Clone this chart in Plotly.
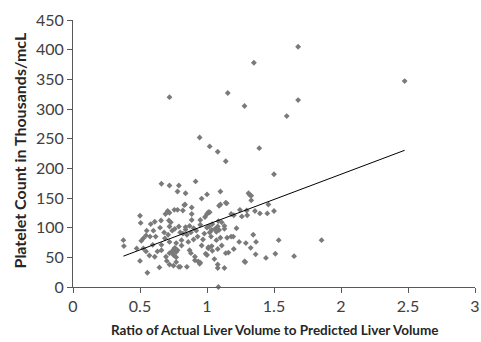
import plotly.graph_objects as go

# Ratio of actual to predicted liver volume (x) and platelet count (y)
ratio = [
    0.72, 1.155, 1.35, 1.28, 1.68, 1.68, 2.475, 1.595, 0.945, 1.02, 1.08, 1.14, 1.39, 1.50,
    0.66, 0.72, 0.79, 0.78, 0.84, 0.915, 0.96, 1.0, 1.10, 1.31, 1.33,
    1.458, 1.45, 1.50, 1.535, 1.855, 1.44, 1.51, 1.65, 1.085,
    1.366, 1.345, 1.363, 1.286, 1.29, 1.326, 1.24, 1.22, 1.20, 1.196, 1.18, 1.15, 1.16, 1.14,
    1.13, 1.08, 1.08, 1.055, 1.04, 1.01, 1.035, 1.08, 1.11, 1.07, 1.10, 1.03, 1.02, 1.035,
    1.07, 1.09, 1.13, 1.13, 1.08, 1.06, 1.0, 0.99,
    1.33, 1.10, 1.09, 1.14, 1.01, 1.02, 1.0, 1.18, 1.246, 1.296, 1.30, 1.358, 1.085, 1.11,
    1.015, 1.04, 1.395, 1.26, 1.20,
    0.836, 0.886, 0.82, 0.756, 0.707, 0.69, 0.886, 0.50, 0.505, 0.58, 0.61, 0.657, 0.716, 0.73,
    0.886, 0.95, 0.985, 0.72, 0.79, 0.84, 0.87,
    0.376, 0.38, 0.50, 0.555, 0.645, 0.57, 0.61, 0.525, 0.545, 0.51, 0.525, 0.545, 0.575, 0.617,
    0.595, 0.66, 0.686, 0.71, 0.694, 0.70, 0.72, 0.75, 0.77, 0.80, 0.74, 0.75, 0.76, 0.77, 0.78,
    0.75, 0.77, 0.72, 0.72, 0.77, 0.81, 0.81, 0.86, 0.87, 0.88, 0.91, 0.935, 0.945, 0.96, 1.01,
    0.85, 0.80, 0.74, 0.84, 0.90, 0.76, 0.82, 0.88,
    0.475, 0.85, 0.79, 0.95, 0.91, 1.28,
    0.72, 0.78, 0.83, 1.147, 1.32,
    0.93, 0.97, 0.98, 0.92, 0.95, 1.0, 0.90, 0.68, 0.66, 0.63, 0.60, 0.65, 0.55,
]
platelets = [
    320, 327, 378, 305, 405, 315, 347, 288, 252, 237, 228, 212, 234, 190,
    174, 171, 171, 161, 158, 178, 149, 156, 161, 158, 154,
    139, 124, 128, 79, 79, 49, 56, 52, 0,
    76, 88, 55, 42, 74, 66, 76, 99, 64, 85, 85, 83, 58, 57,
    32, 32, 38, 47, 61, 67, 69, 64, 70, 79, 83, 85, 92, 96,
    93, 96, 98, 103, 102, 98, 54, 56,
    146, 139, 137, 142, 126, 126, 123, 123, 130, 129, 121, 128, 111, 109,
    102, 106, 124, 119, 121,
    139, 134, 129, 130, 128, 123, 123, 120, 108, 106, 110, 112, 112, 109,
    113, 113, 118, 102, 102, 101, 103,
    79, 69, 44, 24, 33, 53, 51, 65, 60, 78, 82, 87, 85, 85,
    71, 71, 82, 88, 51, 44, 38, 36, 42, 34, 60, 63, 66, 59, 62,
    54, 50, 57, 76, 74, 79, 70, 76, 62, 57, 51, 43, 39, 70, 65,
    88, 92, 95, 97, 99, 98, 90, 92,
    65, 34, 34, 41, 45, 43,
    125, 130, 138, 141, 155,
    85, 80, 90, 95, 105, 100, 80, 92, 62, 60, 95, 100, 95,
]

# Linear trend line
trend_intercept = 20.0
trend_slope = 85.0

x_ticks = [0, 0.5, 1, 1.5, 2, 2.5, 3]
x_tick_text = ["0", "0.5", "1", "1.5", "2", "2.5", "3"]
y_ticks = [0, 50, 100, 150, 200, 250, 300, 350, 400, 450]

x_title = "Ratio of Actual Liver Volume to Predicted Liver Volume"
y_title = "Platelet Count in Thousands/mcL"

tx = [min(ratio), max(ratio)]
ty = [trend_intercept + trend_slope * v for v in tx]

FONT = "Lato, Open Sans, sans-serif"

fig = go.Figure()
fig.add_trace(go.Scatter(
    x=ratio, y=platelets, mode="markers",
    marker=dict(symbol="diamond", size=4.5, color="#7a7a7a", line=dict(width=0)),
    showlegend=False, hoverinfo="skip", cliponaxis=False,
))
fig.add_trace(go.Scatter(
    x=tx, y=ty, mode="lines",
    line=dict(color="#000000", width=1),
    showlegend=False, hoverinfo="skip",
))

axis_common = dict(
    showgrid=False, zeroline=False, showline=True, linecolor="#595959", linewidth=1,
    ticks="outside", ticklen=5, tickcolor="#595959", tickwidth=1, automargin=False,
    tickfont=dict(family=FONT, size=16, color="#404040"),
)

fig.update_layout(
    width=481, height=342,
    margin=dict(l=73, r=6, t=20, b=55),
    paper_bgcolor="white", plot_bgcolor="white",
    font=dict(family=FONT),
    xaxis=dict(range=[0, 3], tickvals=x_ticks, ticktext=x_tick_text, **axis_common),
    yaxis=dict(range=[0, 450], tickvals=y_ticks, **axis_common),
    annotations=[
        dict(text="<b>" + x_title + "</b>", xref="paper", yref="paper", x=0.5, y=0,
             xanchor="center", yanchor="middle", yshift=-43, showarrow=False,
             font=dict(family=FONT, size=13.5, color="#262626")),
        dict(text="<b>" + y_title + "</b>", xref="paper", yref="paper", x=0, y=0.5,
             xanchor="center", yanchor="middle", xshift=-54, yshift=3, textangle=-90,
             showarrow=False, font=dict(family=FONT, size=16, color="#262626")),
    ],
)

fig.write_html("out.html", config={"displayModeBar": False},
               post_script="document.body.style.margin='0px';")
